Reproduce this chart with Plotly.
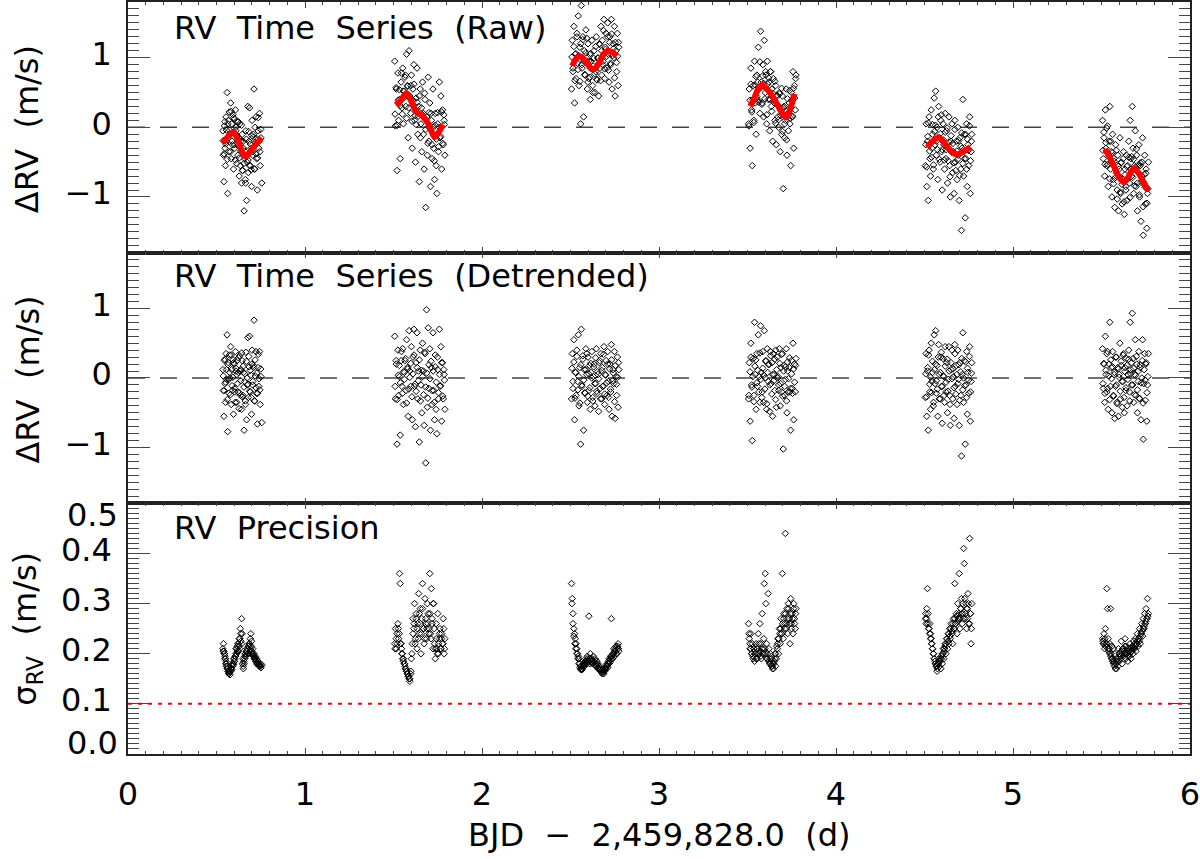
import plotly.graph_objects as go

# ---------------- data ----------------
# Night 1 (batch a)
t1 = [0.536,0.539,0.542,0.545,0.548,0.551,0.554,0.557,0.560,0.563,
      0.567,0.570,0.573,0.576,0.580,0.583,0.586,0.590,0.593,0.596,
      0.600,0.603,0.607,0.610,0.614,0.617,0.621,0.624,0.628,0.631,
      0.635,0.638,0.642,0.645,0.649,0.652,0.656,0.659,0.663,0.666,
      0.670,0.673,0.677,0.680,0.684,0.687,0.691,0.694,0.698,0.701,
      0.705,0.708,0.712,0.716,0.719,0.723,0.727,0.731,0.735,0.739,
      0.743,0.747,0.751,0.756]
raw1 = [-0.05,-0.40,-0.78,0.02,-0.30,-0.55,0.15,-0.20,0.50,-0.95,
        0.10,-0.35,0.22,-0.10,0.35,-0.45,0.05,-0.25,0.18,-0.60,
        0.12,-0.30,0.25,-0.05,-0.52,0.08,-0.40,-0.15,-0.70,0.05,
        -0.55,-0.20,-0.80,-0.10,-0.62,-0.30,-1.20,-0.45,-0.75,-0.05,
        -1.05,-0.50,0.30,-0.65,-0.20,0.28,-0.55,-0.30,-0.85,0.10,
        -0.40,-0.10,0.55,-0.60,-0.22,0.15,-0.45,-0.90,-0.05,-0.30,
        0.20,-0.55,-0.15,-0.80]
det1 = [0.12,-0.18,-0.55,0.25,-0.08,-0.35,0.35,-0.02,0.62,-0.77,
        0.22,-0.22,0.33,0.0,0.45,-0.38,0.12,-0.18,0.26,-0.52,
        0.2,-0.2,0.38,0.1,-0.35,0.25,-0.2,0.08,-0.44,0.32,
        -0.25,0.12,-0.45,0.25,-0.25,0.08,-0.75,-0.05,-0.33,0.37,
        -0.6,-0.1,0.58,-0.28,0.16,0.6,-0.2,0.04,-0.52,0.4,
        -0.1,0.18,0.83,-0.33,0.03,0.38,-0.22,-0.66,0.15,-0.12,
        0.38,-0.38,0.02,-0.64]
sig1 = [0.21,0.22,0.205,0.20,0.195,0.19,0.185,0.18,0.175,0.17,
        0.165,0.16,0.162,0.158,0.165,0.17,0.168,0.175,0.18,0.178,
        0.185,0.19,0.195,0.21,0.20,0.215,0.22,0.205,0.23,0.21,
        0.25,0.225,0.27,0.24,0.19,0.17,0.18,0.19,0.20,0.195,
        0.205,0.21,0.20,0.215,0.22,0.205,0.21,0.24,0.225,0.20,
        0.21,0.195,0.20,0.19,0.195,0.185,0.19,0.18,0.185,0.178,
        0.175,0.18,0.172,0.178]
# Night 1 (batch b)
t1b = [0.538,0.543,0.547,0.552,0.556,0.561,0.565,0.570,0.574,0.579,
       0.583,0.588,0.592,0.597,0.601,0.606,0.610,0.615,0.619,0.624,
       0.628,0.633,0.637,0.642,0.646,0.651,0.655,0.660,0.664,0.669,
       0.673,0.678,0.682,0.687,0.691,0.696,0.700,0.705,0.709,0.714,
       0.718,0.723,0.727,0.732,0.736,0.741,0.745,0.750]
raw1b = [-0.19,-0.38,0.08,-0.24,-0.04,-0.46,0.05,-0.15,-0.04,-0.35,
         0.23,-0.20,-0.07,0.14,-0.25,-0.47,0.00,-0.11,-0.26,0.08,
         -0.44,-0.17,-0.34,0.03,-0.62,-0.20,-0.52,-0.34,-0.80,-0.17,
         -0.40,-0.47,-0.06,-0.55,-0.24,-0.61,-0.12,-0.35,-0.14,-0.60,
         0.00,-0.38,-0.16,-0.44,0.14,-0.20,-0.35,-0.03]
det1b = [0.03,-0.18,0.27,-0.06,0.12,-0.31,0.19,-0.02,0.08,-0.24,
         0.33,-0.11,0.01,0.22,-0.15,-0.35,0.14,0.05,-0.08,0.29,
         -0.21,0.10,-0.04,0.36,-0.27,0.17,-0.13,0.06,-0.38,0.24,
         0.00,-0.09,0.31,-0.19,0.11,-0.28,0.20,-0.05,0.15,-0.33,
         0.26,-0.14,0.07,-0.22,0.34,-0.01,-0.17,0.13]
sig1b = [0.205,0.20,0.19,0.18,0.175,0.17,0.165,0.16,0.165,0.17,
         0.172,0.178,0.18,0.19,0.185,0.195,0.20,0.21,0.205,0.22,
         0.215,0.23,0.24,0.22,0.18,0.175,0.185,0.195,0.20,0.205,
         0.21,0.20,0.215,0.22,0.23,0.215,0.205,0.20,0.195,0.19,
         0.19,0.185,0.18,0.185,0.18,0.175,0.178,0.175]

# Night 2 (batch a)
t2 = [1.507,1.511,1.516,1.520,1.525,1.529,1.534,1.538,1.543,1.547,
      1.552,1.556,1.561,1.565,1.570,1.574,1.579,1.583,1.588,1.592,
      1.597,1.601,1.606,1.610,1.615,1.619,1.624,1.628,1.633,1.637,
      1.642,1.646,1.651,1.655,1.660,1.664,1.669,1.673,1.678,1.682,
      1.687,1.691,1.696,1.700,1.705,1.709,1.714,1.718,1.723,1.727,
      1.732,1.736,1.741,1.745,1.750,1.754,1.759,1.763,1.768,1.772,
      1.777,1.781,1.786,1.790]
raw2 = [0.95,0.02,0.55,-0.62,0.78,0.10,0.40,-0.45,0.65,0.28,
        0.85,0.05,0.52,0.72,0.30,1.05,0.60,-0.15,1.10,0.45,
        0.20,0.75,-0.30,0.55,0.90,0.10,-0.50,0.42,0.85,-0.10,
        0.30,-0.78,0.55,0.05,-0.35,0.65,0.20,-0.60,0.40,-1.15,
        0.15,-0.40,0.72,-0.20,0.35,-0.85,0.10,-0.45,0.55,-0.30,
        -0.75,0.20,-0.55,-0.95,0.05,-0.35,0.65,-0.15,0.45,-0.60,
        0.25,-0.25,0.10,-0.40]
det2 = [0.6,-0.3,0.2,-0.95,0.4,-0.25,0.02,-0.82,0.25,-0.12,
        0.42,-0.38,0.08,0.25,-0.18,0.55,0.15,-0.55,0.68,0.1,
        -0.12,0.45,-0.6,0.3,0.7,-0.12,-0.7,0.22,0.65,-0.3,
        0.1,-0.92,0.4,-0.1,-0.5,0.5,0.1,-0.68,0.35,-1.22,
        0.98,-0.42,0.72,-0.15,0.42,-0.75,0.15,-0.38,0.65,-0.18,
        -0.6,0.33,-0.45,-0.8,0.12,-0.3,0.7,-0.12,0.45,-0.62,
        0.22,-0.3,0.05,-0.45]
sig2 = [0.22,0.25,0.21,0.24,0.26,0.23,0.36,0.34,0.22,0.20,
        0.19,0.185,0.18,0.175,0.17,0.165,0.16,0.155,0.15,0.145,
        0.16,0.19,0.22,0.27,0.25,0.30,0.23,0.28,0.21,0.26,
        0.32,0.24,0.29,0.20,0.27,0.34,0.25,0.22,0.31,0.26,
        0.23,0.30,0.28,0.25,0.36,0.24,0.33,0.27,0.21,0.30,
        0.22,0.19,0.26,0.21,0.28,0.20,0.23,0.25,0.21,0.24,
        0.22,0.27,0.20,0.23]
# Night 2 (batch b)
t2b = [1.509,1.515,1.521,1.527,1.533,1.539,1.545,1.550,1.556,1.562,
       1.568,1.574,1.580,1.586,1.592,1.598,1.604,1.610,1.616,1.622,
       1.628,1.634,1.640,1.646,1.652,1.658,1.664,1.670,1.676,1.682,
       1.688,1.694,1.700,1.706,1.712,1.718,1.724,1.730,1.736,1.742,
       1.748,1.754,1.760,1.766,1.772,1.778,1.784,1.788]
raw2b = [0.19,0.57,0.03,0.39,0.54,0.31,0.78,0.19,0.52,0.43,
         0.75,0.13,0.59,0.28,0.42,0.60,0.09,0.39,0.62,0.17,
         0.04,0.36,0.16,0.45,-0.15,0.28,0.18,-0.10,0.49,-0.03,
         0.15,-0.23,0.21,-0.02,0.20,-0.25,0.00,-0.48,0.03,-0.17,
         0.21,-0.28,0.00,-0.13,0.22,-0.23,0.18,0.04]
det2b = [-0.12,0.25,-0.31,0.04,0.18,-0.07,0.38,-0.22,0.09,-0.02,
         0.28,-0.36,0.13,-0.16,0.01,0.21,-0.27,0.06,0.33,-0.09,
         -0.19,0.15,-0.04,0.26,-0.33,0.11,0.02,-0.24,0.37,-0.13,
         0.07,-0.29,0.19,-0.01,0.24,-0.18,0.10,-0.35,0.16,-0.06,
         0.30,-0.21,0.05,-0.11,0.22,-0.26,0.12,-0.03]
sig2b = [0.21,0.23,0.22,0.25,0.24,0.22,0.21,0.20,0.19,0.18,
         0.17,0.165,0.16,0.155,0.15,0.165,0.20,0.24,0.26,0.22,
         0.27,0.25,0.23,0.28,0.26,0.24,0.29,0.25,0.23,0.27,
         0.25,0.26,0.24,0.28,0.23,0.26,0.30,0.25,0.21,0.23,
         0.20,0.22,0.24,0.21,0.23,0.22,0.25,0.21]

# Night 3 (batch a)
t3 = [2.506,2.510,2.514,2.519,2.523,2.527,2.531,2.536,2.540,2.544,
      2.548,2.553,2.557,2.561,2.565,2.570,2.574,2.578,2.582,2.587,
      2.591,2.595,2.599,2.604,2.608,2.612,2.616,2.621,2.625,2.629,
      2.633,2.638,2.642,2.646,2.650,2.655,2.659,2.663,2.667,2.672,
      2.676,2.680,2.684,2.689,2.693,2.697,2.701,2.706,2.710,2.714,
      2.718,2.723,2.727,2.731,2.735,2.740,2.744,2.748,2.752,2.757,
      2.761,2.765,2.769,2.773]
raw3 = [0.55,1.25,0.80,1.45,0.35,1.05,0.70,1.35,0.92,1.60,
        0.60,1.15,0.05,1.75,0.85,1.30,0.15,1.10,0.75,1.40,
        0.95,0.55,1.20,0.70,1.05,0.40,0.95,1.25,0.60,0.88,
        1.10,0.50,0.80,1.30,0.68,1.00,0.45,1.20,0.85,1.45,
        0.75,1.25,0.95,1.55,0.70,1.15,1.35,0.85,1.50,1.05,
        0.65,1.30,0.90,1.55,0.55,1.20,1.00,1.45,0.45,1.10,
        0.80,1.35,0.60,1.15]
det3 = [-0.3,0.35,-0.15,0.55,-0.6,0.08,-0.25,0.4,-0.05,0.62,
        -0.4,0.15,-0.95,0.7,-0.12,0.32,-0.75,0.12,-0.22,0.42,
        0.05,-0.35,0.3,-0.18,0.18,-0.45,0.08,0.38,-0.28,0.02,
        0.2,-0.4,-0.08,0.42,-0.22,0.05,-0.48,0.22,-0.15,0.35,
        -0.3,0.15,-0.12,0.45,-0.38,0.05,0.25,-0.25,0.38,-0.05,
        -0.45,0.2,-0.2,0.48,-0.55,0.12,-0.08,0.38,-0.58,0.02,
        -0.25,0.3,-0.42,0.12]
sig3 = [0.34,0.31,0.28,0.25,0.24,0.23,0.22,0.21,0.20,0.195,
        0.19,0.18,0.175,0.17,0.168,0.172,0.18,0.175,0.185,0.19,
        0.18,0.195,0.185,0.275,0.19,0.20,0.185,0.19,0.18,0.195,
        0.185,0.19,0.18,0.175,0.185,0.18,0.17,0.175,0.17,0.165,
        0.17,0.16,0.168,0.165,0.172,0.17,0.178,0.175,0.18,0.185,
        0.19,0.182,0.195,0.27,0.19,0.20,0.21,0.195,0.205,0.215,
        0.20,0.21,0.22,0.205]
# Night 3 (batch b)
t3b = [2.508,2.514,2.519,2.525,2.530,2.536,2.542,2.547,2.553,2.558,
       2.564,2.570,2.575,2.581,2.586,2.592,2.598,2.603,2.609,2.614,
       2.620,2.626,2.631,2.637,2.642,2.648,2.654,2.659,2.665,2.670,
       2.676,2.682,2.687,2.693,2.698,2.704,2.710,2.715,2.721,2.726,
       2.732,2.738,2.743,2.749,2.754,2.760,2.766,2.771]
raw3b = [1.01,0.85,1.16,0.67,1.06,1.30,0.83,1.03,0.66,1.20,
         0.90,1.26,0.95,0.76,1.07,1.28,0.65,0.95,0.72,1.06,
         0.84,0.50,0.99,0.77,1.16,0.69,0.99,0.91,1.19,0.67,
         1.10,0.90,1.39,0.84,1.12,1.02,1.30,0.82,1.22,0.92,
         1.34,1.03,1.13,0.71,1.22,0.93,1.02,1.22]
det3b = [0.14,-0.05,0.23,-0.29,0.08,0.31,-0.17,0.02,-0.36,0.19,
         -0.10,0.27,-0.03,-0.21,0.12,0.35,-0.26,0.06,-0.14,0.21,
         0.00,-0.33,0.16,-0.08,0.29,-0.19,0.09,-0.01,0.25,-0.30,
         0.11,-0.12,0.34,-0.23,0.04,-0.07,0.20,-0.28,0.13,-0.16,
         0.26,-0.04,0.07,-0.34,0.18,-0.09,0.01,0.22]
sig3b = [0.30,0.26,0.235,0.22,0.21,0.20,0.19,0.18,0.172,0.168,
         0.17,0.175,0.178,0.18,0.185,0.18,0.19,0.185,0.18,0.19,
         0.185,0.18,0.185,0.178,0.175,0.18,0.172,0.17,0.168,0.165,
         0.162,0.165,0.16,0.165,0.17,0.175,0.172,0.18,0.185,0.19,
         0.195,0.19,0.20,0.205,0.21,0.20,0.215,0.21]

# Night 4 (batch a)
t4 = [3.506,3.510,3.515,3.519,3.523,3.527,3.532,3.536,3.540,3.544,
      3.549,3.553,3.557,3.561,3.566,3.570,3.574,3.578,3.583,3.587,
      3.591,3.595,3.600,3.604,3.608,3.612,3.617,3.621,3.625,3.629,
      3.634,3.638,3.642,3.646,3.651,3.655,3.659,3.663,3.668,3.672,
      3.676,3.680,3.685,3.689,3.693,3.697,3.702,3.706,3.710,3.714,
      3.719,3.723,3.727,3.731,3.736,3.740,3.744,3.748,3.753,3.757,
      3.761,3.765,3.770,3.774]
raw4 = [0.05,0.55,-0.30,0.85,0.25,-0.55,0.60,0.10,0.95,0.35,
        -0.10,0.75,0.40,1.15,0.55,0.20,1.38,0.65,0.35,0.90,
        0.15,1.25,0.50,0.75,0.05,0.95,0.40,0.65,-0.05,0.80,
        0.30,0.55,-0.20,0.70,0.35,0.10,0.60,-0.25,0.45,0.15,
        0.00,0.50,-0.35,0.25,-0.10,0.45,-0.88,0.30,-0.15,0.10,
        0.55,-0.40,0.20,-0.05,0.35,0.05,-0.55,0.50,0.15,0.80,
        -0.30,0.60,0.25,0.75]
det4 = [-0.3,0.22,-0.62,0.5,-0.1,-0.9,0.28,-0.25,0.8,0.05,
        -0.45,0.35,-0.12,0.62,0.02,-0.35,0.75,0.08,-0.2,0.38,
        -0.35,0.68,0.0,0.25,-0.45,0.42,-0.05,0.2,-0.48,0.38,
        -0.08,0.22,-0.55,0.35,0.05,-0.18,0.4,-0.42,0.3,0.02,
        -0.1,0.42,-0.4,0.15,-0.2,0.35,-1.02,0.18,-0.25,-0.02,
        0.42,-0.5,0.1,-0.2,0.15,-0.2,-0.75,0.25,-0.15,0.5,
        -0.6,0.2,-0.2,0.28]
sig4 = [0.26,0.23,0.21,0.24,0.20,0.22,0.19,0.21,0.185,0.20,
        0.22,0.19,0.21,0.24,0.20,0.26,0.22,0.19,0.28,0.21,
        0.20,0.34,0.36,0.30,0.22,0.19,0.32,0.21,0.18,0.20,
        0.19,0.175,0.18,0.17,0.185,0.20,0.175,0.19,0.21,0.23,
        0.20,0.25,0.22,0.27,0.24,0.36,0.23,0.28,0.26,0.44,
        0.25,0.29,0.24,0.30,0.27,0.22,0.31,0.26,0.28,0.24,
        0.30,0.27,0.25,0.29]
# Night 4 (batch b)
t4b = [3.508,3.514,3.519,3.525,3.530,3.536,3.542,3.547,3.553,3.558,
       3.564,3.570,3.575,3.581,3.586,3.592,3.598,3.603,3.609,3.614,
       3.620,3.626,3.631,3.637,3.642,3.648,3.654,3.659,3.665,3.670,
       3.676,3.682,3.687,3.693,3.698,3.704,3.710,3.715,3.721,3.726,
       3.732,3.738,3.743,3.749,3.754,3.760,3.766,3.772]
raw4b = [0.02,0.39,0.62,0.22,0.40,0.07,0.61,0.73,0.44,0.65,
         0.36,0.94,0.58,0.33,0.74,0.63,0.41,0.80,0.18,0.62,
         0.71,0.40,0.80,0.23,0.49,0.38,0.66,0.06,0.46,0.32,
         0.11,0.48,0.17,0.56,-0.06,0.28,0.05,0.31,-0.18,0.41,
         0.20,0.53,0.13,0.39,0.16,0.56,0.42,0.70]
det4b = [-0.25,0.09,0.30,-0.13,0.02,-0.34,0.17,0.26,-0.07,0.11,
         -0.20,0.36,-0.02,-0.28,0.14,0.04,-0.16,0.24,-0.37,0.08,
         0.19,-0.10,0.32,-0.23,0.05,-0.04,0.27,-0.31,0.12,0.00,
         -0.18,0.21,-0.08,0.34,-0.26,0.10,-0.12,0.16,-0.33,0.23,
         -0.01,0.29,-0.15,0.06,-0.22,0.13,-0.06,0.18]
sig4b = [0.24,0.22,0.21,0.20,0.195,0.21,0.20,0.19,0.21,0.20,
         0.22,0.205,0.195,0.21,0.20,0.23,0.21,0.20,0.19,0.20,
         0.185,0.19,0.18,0.175,0.17,0.18,0.19,0.20,0.215,0.22,
         0.23,0.24,0.25,0.24,0.26,0.27,0.25,0.28,0.26,0.27,
         0.29,0.26,0.28,0.25,0.27,0.29,0.26,0.28]

# Night 5 (batch a)
t5 = [4.505,4.509,4.513,4.517,4.521,4.526,4.530,4.534,4.538,4.542,
      4.546,4.550,4.555,4.559,4.563,4.567,4.571,4.575,4.580,4.584,
      4.588,4.592,4.596,4.600,4.605,4.609,4.613,4.617,4.621,4.625,
      4.630,4.634,4.638,4.642,4.646,4.650,4.655,4.659,4.663,4.667,
      4.671,4.675,4.680,4.684,4.688,4.692,4.696,4.700,4.705,4.709,
      4.713,4.717,4.721,4.725,4.730,4.734,4.738,4.742,4.746,4.750,
      4.755,4.759,4.763,4.767]
raw5 = [-0.55,0.05,-0.85,-0.20,-1.05,0.15,-0.45,-0.70,0.25,-0.30,
        -0.10,-0.60,0.42,-0.25,0.52,-0.40,0.00,-0.75,0.30,-0.15,
        -0.50,0.10,-0.35,-0.90,0.05,-0.25,-0.60,0.20,-0.45,-0.05,
        -0.80,-0.30,0.15,-0.55,-1.00,-0.20,0.05,-0.65,-0.35,-0.95,
        0.10,-0.50,-0.20,-0.75,0.00,-0.40,-1.05,-0.15,-0.60,-1.48,
        -0.30,0.40,-0.70,-0.10,-1.30,-0.45,0.05,-0.85,-0.25,-0.55,
        0.15,-0.95,-0.35,-0.10]
det5 = [-0.28,0.35,-0.55,0.1,-0.75,0.4,-0.2,-0.45,0.5,-0.05,
        0.08,-0.4,0.62,-0.08,0.68,-0.22,0.18,-0.55,0.48,0.05,
        -0.3,0.3,-0.12,-0.65,0.28,0.02,-0.35,0.45,-0.2,0.22,
        -0.5,-0.02,0.45,-0.25,-0.68,0.12,0.4,-0.3,0.02,-0.58,
        0.48,-0.12,0.18,-0.38,0.4,-0.02,-0.68,0.22,-0.25,-1.12,
        0.05,0.65,-0.35,0.25,-0.95,-0.1,0.38,-0.52,0.08,-0.22,
        0.45,-0.62,-0.05,0.22]
sig5 = [0.27,0.26,0.29,0.33,0.28,0.25,0.26,0.24,0.23,0.22,
        0.21,0.20,0.19,0.185,0.18,0.175,0.165,0.18,0.19,0.175,
        0.185,0.17,0.19,0.18,0.20,0.19,0.21,0.22,0.20,0.23,
        0.21,0.24,0.22,0.25,0.23,0.26,0.24,0.22,0.27,0.25,
        0.34,0.26,0.28,0.24,0.30,0.27,0.36,0.25,0.29,0.31,
        0.26,0.28,0.41,0.38,0.27,0.30,0.25,0.29,0.32,0.26,
        0.43,0.28,0.22,0.30]
# Night 5 (batch b)
t5b = [4.507,4.512,4.518,4.523,4.529,4.534,4.540,4.545,4.551,4.556,
       4.562,4.567,4.573,4.578,4.584,4.589,4.595,4.600,4.606,4.611,
       4.617,4.622,4.628,4.633,4.639,4.644,4.650,4.655,4.661,4.666,
       4.672,4.677,4.683,4.688,4.694,4.699,4.705,4.710,4.716,4.721,
       4.727,4.732,4.738,4.743,4.749,4.754,4.760,4.765]
raw5b = [-0.25,-0.57,-0.13,0.06,-0.34,-0.23,-0.43,0.04,-0.54,-0.06,
         0.03,-0.20,-0.32,0.15,-0.46,-0.09,0.18,-0.32,-0.18,-0.47,
         -0.07,-0.32,-0.01,-0.48,-0.21,-0.71,-0.12,-0.36,-0.23,-0.51,
         -0.03,-0.62,-0.34,-0.46,-0.19,-0.69,-0.27,-0.08,-0.52,-0.35,
         -0.45,-0.10,-0.60,-0.17,-0.33,0.02,-0.48,-0.20]
det5b = [0.06,-0.27,0.15,0.33,-0.09,0.01,-0.21,0.24,-0.35,0.12,
         0.20,-0.04,-0.16,0.30,-0.30,0.08,0.37,-0.12,0.03,-0.25,
         0.17,-0.06,0.27,-0.19,0.10,-0.38,0.22,-0.01,0.13,-0.14,
         0.35,-0.23,0.05,-0.08,0.19,-0.32,0.09,0.28,-0.17,0.00,
         -0.11,0.23,-0.28,0.14,-0.03,0.31,-0.20,0.07]
sig5b = [0.28,0.27,0.26,0.25,0.24,0.23,0.22,0.21,0.20,0.19,
         0.18,0.175,0.17,0.18,0.185,0.19,0.195,0.20,0.21,0.205,
         0.215,0.22,0.23,0.225,0.24,0.235,0.25,0.245,0.26,0.25,
         0.27,0.26,0.275,0.265,0.28,0.27,0.29,0.28,0.30,0.27,
         0.31,0.28,0.29,0.27,0.30,0.26,0.28,0.25]

# Night 6 (batch a)
t6 = [5.506,5.510,5.514,5.518,5.522,5.526,5.530,5.534,5.538,5.543,
      5.547,5.551,5.555,5.559,5.563,5.567,5.571,5.575,5.580,5.584,
      5.588,5.592,5.596,5.600,5.604,5.608,5.612,5.617,5.621,5.625,
      5.629,5.633,5.637,5.641,5.645,5.649,5.654,5.658,5.662,5.666,
      5.670,5.674,5.678,5.682,5.686,5.691,5.695,5.699,5.703,5.707,
      5.711,5.715,5.719,5.723,5.728,5.732,5.736,5.740,5.744,5.748,
      5.752,5.756,5.760,5.765]
raw6 = [0.10,-0.45,-0.15,-0.70,0.25,-0.30,-0.55,0.02,-0.85,-0.20,
        0.30,-0.60,-0.35,-1.00,-0.10,-0.75,-0.45,-1.15,-0.25,-0.65,
        -0.90,-0.40,-1.20,-0.60,-0.15,-0.95,-0.50,-1.10,-0.75,-0.35,
        -1.25,-0.60,-0.85,-0.40,-1.05,-0.55,-0.20,-0.80,0.10,-0.45,
        -0.70,0.30,-0.30,-0.95,-0.55,-0.05,-0.85,-0.40,-1.20,-0.65,
        -0.25,-1.00,-0.55,-1.35,-0.70,-0.15,-1.55,-0.80,-0.40,-1.10,
        -0.60,-1.45,-0.95,-0.50]
det6 = [0.42,-0.15,0.2,-0.35,0.6,0.05,-0.2,0.38,-0.45,0.2,
        0.8,-0.12,0.15,-0.5,0.38,-0.25,0.05,-0.58,0.3,-0.1,
        -0.35,0.15,-0.55,0.05,0.5,-0.3,0.18,-0.42,-0.05,0.35,
        -0.5,0.15,-0.18,0.28,-0.4,0.05,0.4,-0.2,0.8,0.12,
        -0.1,0.93,0.28,-0.35,0.05,0.55,-0.25,0.2,-0.5,-0.05,
        0.38,-0.3,0.15,-0.6,0.0,0.55,-0.88,-0.08,0.35,-0.32,
        0.22,-0.62,-0.1,0.35]
sig6 = [0.23,0.22,0.24,0.21,0.25,0.22,0.33,0.29,0.23,0.21,
        0.22,0.29,0.20,0.215,0.19,0.21,0.185,0.20,0.18,0.17,
        0.19,0.175,0.21,0.185,0.20,0.19,0.225,0.18,0.21,0.195,
        0.20,0.23,0.19,0.215,0.20,0.185,0.21,0.195,0.22,0.19,
        0.205,0.215,0.20,0.225,0.21,0.23,0.205,0.22,0.24,0.215,
        0.23,0.25,0.22,0.24,0.26,0.235,0.27,0.25,0.28,0.26,
        0.29,0.27,0.31,0.28]
# Night 6 (batch b)
t6b = [5.508,5.513,5.519,5.524,5.530,5.535,5.541,5.546,5.552,5.557,
       5.562,5.568,5.573,5.579,5.584,5.589,5.595,5.600,5.606,5.611,
       5.616,5.622,5.627,5.633,5.638,5.643,5.649,5.654,5.660,5.665,
       5.670,5.676,5.681,5.687,5.692,5.697,5.703,5.708,5.714,5.719,
       5.724,5.730,5.735,5.741,5.746,5.751,5.757,5.762]
raw6b = [-0.33,-0.07,-0.53,-0.22,-0.01,-0.53,-0.38,-0.74,-0.20,-0.50,
         -0.36,-0.81,-0.49,-0.72,-0.33,-1.03,-0.56,-0.71,-0.93,-0.51,
         -0.82,-0.45,-1.07,-0.68,-0.90,-0.56,-0.74,-0.43,-1.01,-0.60,
         -0.42,-0.72,-0.46,-0.84,-0.57,-0.31,-0.80,-0.55,-0.97,-0.51,
         -0.79,-0.50,-1.14,-0.68,-0.86,-0.66,-1.09,-0.88]
det6b = [-0.08,0.21,-0.22,0.11,0.35,-0.15,0.03,-0.31,0.26,-0.01,
         0.16,-0.26,0.08,-0.12,0.30,-0.37,0.13,0.01,-0.19,0.24,
         -0.05,0.33,-0.28,0.09,-0.14,0.18,-0.02,0.27,-0.33,0.06,
         0.22,-0.10,0.14,-0.24,0.04,0.31,-0.17,0.10,-0.29,0.19,
         -0.07,0.25,-0.36,0.12,-0.03,0.20,-0.21,0.02]
sig6b = [0.225,0.22,0.23,0.215,0.22,0.21,0.205,0.20,0.195,0.19,
         0.185,0.18,0.175,0.17,0.18,0.185,0.19,0.20,0.195,0.205,
         0.20,0.21,0.205,0.215,0.20,0.21,0.195,0.205,0.20,0.21,
         0.205,0.215,0.21,0.22,0.215,0.22,0.225,0.23,0.225,0.235,
         0.24,0.245,0.25,0.255,0.26,0.265,0.27,0.275]

# Smooth trend model (red curves) per night
trend_t1 = [0.535,0.56,0.595,0.62,0.645,0.665,0.69,0.72,0.755]
trend_v1 = [-0.23,-0.15,-0.07,-0.18,-0.35,-0.42,-0.35,-0.25,-0.15]
trend_t2 = [1.513,1.54,1.573,1.60,1.63,1.66,1.69,1.715,1.733,1.755,1.78]
trend_v2 = [0.32,0.38,0.49,0.38,0.22,0.17,0.08,-0.06,-0.14,-0.07,0.04]
trend_t3 = [2.51,2.53,2.55,2.58,2.61,2.63,2.66,2.69,2.71,2.74,2.76]
trend_v3 = [0.88,0.98,1.02,0.97,0.86,0.83,0.92,1.06,1.10,1.07,1.02]
trend_t4 = [3.515,3.54,3.56,3.58,3.61,3.64,3.67,3.70,3.72,3.74,3.765]
trend_v4 = [0.30,0.43,0.55,0.61,0.55,0.45,0.32,0.19,0.14,0.25,0.48]
trend_t5 = [4.516,4.55,4.58,4.61,4.645,4.68,4.72,4.76]
trend_v5 = [-0.29,-0.19,-0.15,-0.22,-0.33,-0.39,-0.35,-0.28]
trend_t6 = [5.52,5.55,5.58,5.60,5.627,5.65,5.683,5.71,5.74,5.764]
trend_v6 = [-0.31,-0.45,-0.61,-0.72,-0.79,-0.72,-0.59,-0.66,-0.80,-0.91]

precision_goal = 0.1

# ---------------- figure ----------------
FONT = "DejaVu Sans"
times = [t1, t1b, t2, t2b, t3, t3b, t4, t4b, t5, t5b, t6, t6b]
raws = [raw1, raw1b, raw2, raw2b, raw3, raw3b, raw4, raw4b, raw5, raw5b, raw6, raw6b]
dets = [det1, det1b, det2, det2b, det3, det3b, det4, det4b, det5, det5b, det6, det6b]
sigs = [sig1, sig1b, sig2, sig2b, sig3, sig3b, sig4, sig4b, sig5, sig5b, sig6, sig6b]
trends = [(trend_t1, trend_v1), (trend_t2, trend_v2), (trend_t3, trend_v3),
          (trend_t4, trend_v4), (trend_t5, trend_v5), (trend_t6, trend_v6)]

marker = dict(symbol="diamond-open", size=5, color="black",
              line=dict(width=1, color="black"))

fig = go.Figure()
all_t = sum(times, [])
fig.add_trace(go.Scatter(x=all_t, y=sum(raws, []), mode="markers", marker=marker,
                         xaxis="x", yaxis="y", showlegend=False))
fig.add_trace(go.Scatter(x=all_t, y=sum(dets, []), mode="markers", marker=marker,
                         xaxis="x2", yaxis="y2", showlegend=False))
fig.add_trace(go.Scatter(x=all_t, y=sum(sigs, []), mode="markers", marker=marker,
                         xaxis="x3", yaxis="y3", showlegend=False))
for tt, tv in trends:
    fig.add_trace(go.Scatter(x=tt, y=tv, mode="lines",
                             line=dict(color="#ff0000", width=6, shape="spline"),
                             xaxis="x", yaxis="y", showlegend=False))

AXC = "#222222"
TKC = "#444444"
xcommon = dict(range=[0, 6], showline=True, linecolor=AXC, linewidth=1.5,
               mirror="ticks", ticks="inside", ticklen=6, tickwidth=1, tickcolor=TKC,
               tick0=0, dtick=1, showgrid=False, zeroline=False, automargin=False,
               ticklabeloverflow="allow",
               minor=dict(ticks="inside", dtick=0.1, tick0=0, ticklen=3,
                          tickwidth=1, tickcolor=TKC, showgrid=False),
               tickfont=dict(family=FONT, size=32, color="black"))
ycommon = dict(showline=True, linecolor=AXC, linewidth=1.5, mirror="ticks",
               ticks="inside", ticklen=22, tickwidth=1, tickcolor=TKC,
               showgrid=False, zeroline=False, automargin=False,
               ticklabeloverflow="allow",
               tickfont=dict(family=FONT, size=32, color="black"),
               ticklabelstandoff=8, ticklabelshift=-4)

fig.update_layout(
    width=1200, height=859,
    margin=dict(l=128, r=10, t=2, b=105, autoexpand=False),
    paper_bgcolor="white", plot_bgcolor="white",
    font=dict(family=FONT, size=32, color="black"),
    xaxis=dict(xcommon, anchor="y", showticklabels=False),
    xaxis2=dict(xcommon, anchor="y2", matches="x", showticklabels=False),
    xaxis3=dict(xcommon, anchor="y3", matches="x", showticklabels=True,
                ticklabelstandoff=11),
    yaxis=dict(ycommon, domain=[2/3, 1], range=[-1.8, 1.8], tick0=0, dtick=1,
               minor=dict(ticks="inside", dtick=0.1, tick0=0, ticklen=11,
                          tickwidth=1, tickcolor=TKC, showgrid=False)),
    yaxis2=dict(ycommon, domain=[1/3, 2/3], range=[-1.8, 1.8], tick0=0, dtick=1,
                minor=dict(ticks="inside", dtick=0.1, tick0=0, ticklen=11,
                           tickwidth=1, tickcolor=TKC, showgrid=False)),
    yaxis3=dict(ycommon, domain=[0, 1/3], range=[0, 0.5], tick0=0, dtick=0.1,
                tickformat=".1f", labelalias={"0.0": " ", "0.5": " "},
                minor=dict(ticks="inside", dtick=0.01, tick0=0, ticklen=11,
                           tickwidth=1, tickcolor=TKC, showgrid=False)),
)

# reference lines
fig.add_shape(type="line", xref="x", yref="y", x0=0, x1=6, y0=0, y1=0,
              line=dict(color="#444444", width=1.5, dash="17px,15px"), layer="below")
fig.add_shape(type="line", xref="x2", yref="y2", x0=0, x1=6, y0=0, y1=0,
              line=dict(color="#444444", width=1.5, dash="17px,15px"), layer="below")
fig.add_shape(type="line", xref="x3", yref="y3", x0=0, x1=6,
              y0=precision_goal, y1=precision_goal,
              line=dict(color="#ff0000", width=2, dash="4px,6px"), layer="below")

NB = "\u00a0"
def sp(s):
    return s.replace(" ", NB + " ")

ann = []
ann.append(dict(text=sp("RV Time Series (Raw)"), xref="paper", yref="paper",
                x=0.0414, y=0.9654, xanchor="left", yanchor="middle", showarrow=False))
ann.append(dict(text=sp("RV Time Series (Detrended)"), xref="paper", yref="paper",
                x=0.0414, y=0.635, xanchor="left", yanchor="middle", showarrow=False))
ann.append(dict(text=sp("RV Precision"), xref="paper", yref="paper",
                x=0.0414, y=0.3005, xanchor="left", yanchor="middle", showarrow=False))
ann.append(dict(text=sp("ΔRV (m/s)"), xref="paper", yref="paper",
                x=-0.095, y=0.831, xanchor="center", yanchor="middle",
                textangle=-90, showarrow=False))
ann.append(dict(text=sp("ΔRV (m/s)"), xref="paper", yref="paper",
                x=-0.095, y=0.498, xanchor="center", yanchor="middle",
                textangle=-90, showarrow=False))
ann.append(dict(text="σ<sub>RV</sub>" + NB + " (m/s)", xref="paper", yref="paper",
                x=-0.095, y=1/6, xanchor="center", yanchor="middle",
                textangle=-90, showarrow=False))
ann.append(dict(text=sp("BJD − 2,459,828.0 (d)"), xref="paper", yref="paper",
                x=0.5, y=-0.1077, xanchor="center", yanchor="middle", showarrow=False))
ann.append(dict(text="0.5", xref="paper", yref="y3", x=0, y=0.5,
                xanchor="right", yanchor="middle", xshift=-8, yshift=-12,
                showarrow=False))
ann.append(dict(text="0.0", xref="paper", yref="y3", x=0, y=0.0,
                xanchor="right", yanchor="middle", xshift=-8, yshift=11,
                showarrow=False))
fig.update_layout(annotations=ann)

fig.write_html("out.html",
               config={"displayModeBar": False},
               post_script="document.body.style.margin='0px';"
                           "document.body.style.overflow='hidden';")
